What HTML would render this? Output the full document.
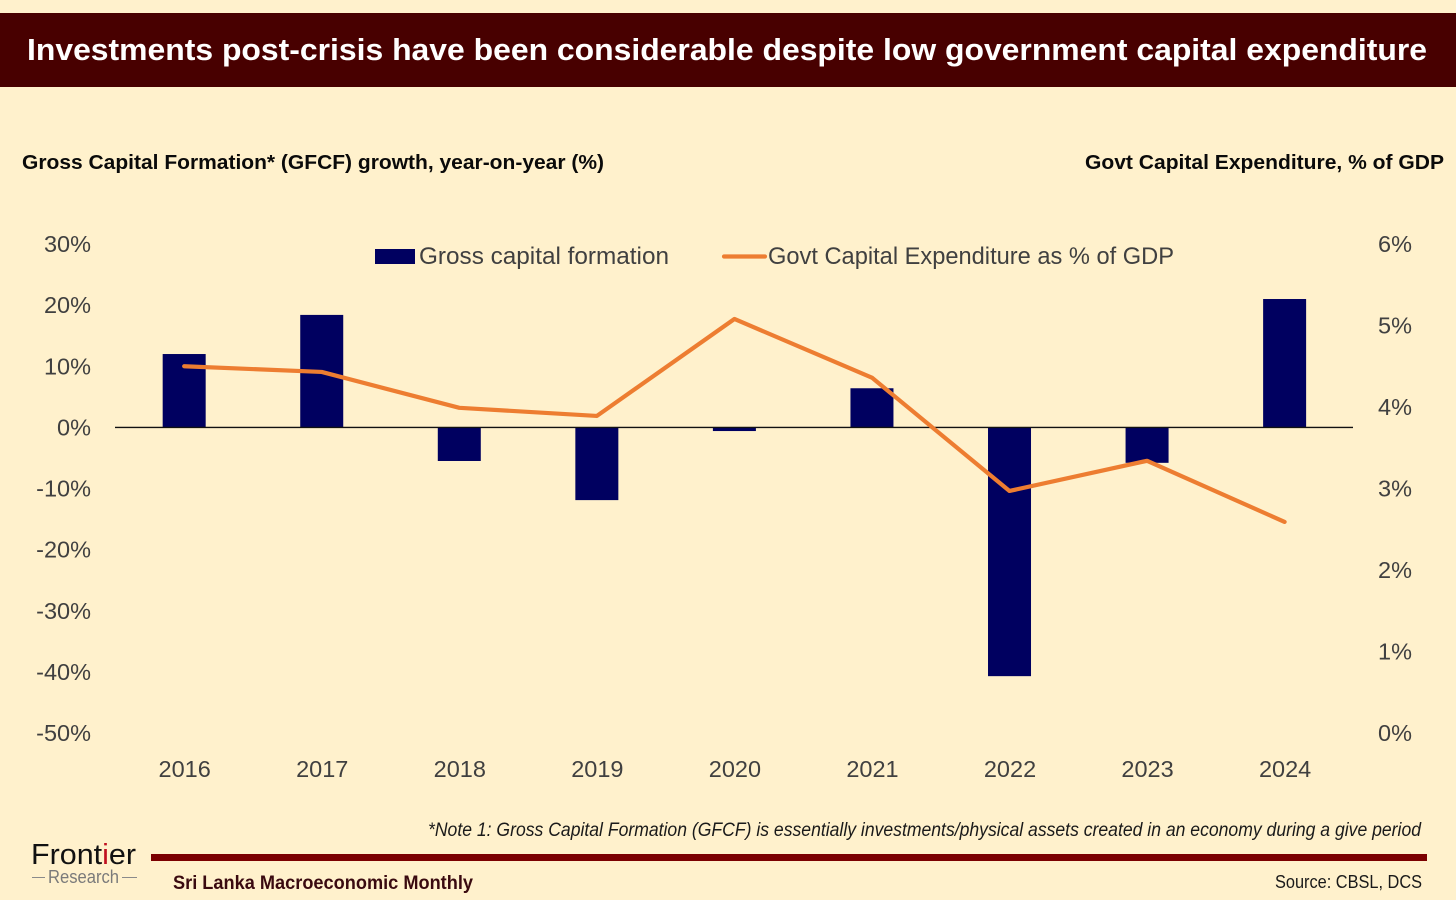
<!DOCTYPE html>
<html lang="en">
<head>
<meta charset="utf-8">
<title>Investments post-crisis</title>
<style>
html,body{margin:0;padding:0;background:#FFF1CC;}
body{width:1456px;height:900px;overflow:hidden;}
svg{display:block;font-family:"Liberation Sans",sans-serif;}
</style>
</head>
<body>
<svg id="chart" width="1456" height="900" viewBox="0 0 1456 900" xmlns="http://www.w3.org/2000/svg">
  <rect x="0" y="0" width="1456" height="900" fill="#FFF1CC"/>
  <rect x="0" y="13" width="1456" height="74" fill="#480000"/>
  <text x="27" y="60" font-size="31" font-weight="700" fill="#ffffff" textLength="1400" lengthAdjust="spacingAndGlyphs">Investments post-crisis have been considerable despite low government capital expenditure</text>
  <text x="22" y="169" font-size="20" font-weight="700" fill="#0a0a0a" textLength="582" lengthAdjust="spacingAndGlyphs">Gross Capital Formation* (GFCF) growth, year-on-year (%)</text>
  <text x="1085" y="169" font-size="20" font-weight="700" fill="#0a0a0a" textLength="359" lengthAdjust="spacingAndGlyphs">Govt Capital Expenditure, % of GDP</text>

  <g id="left-ticks"></g>
  <g id="right-ticks"></g>
  <g id="x-ticks"></g>
  <g id="bars"></g>
  <line x1="115" y1="427.4" x2="1353" y2="427.4" stroke="#111111" stroke-width="1.4"/>
  <polyline id="expenditure-line" fill="none" stroke="#ED7D31" stroke-width="4.2" stroke-linejoin="round" stroke-linecap="round"/>

  <g>
    <rect x="375" y="249" width="40" height="15" fill="#000060"/>
    <text x="419" y="264" font-size="24" fill="#404040" textLength="250" lengthAdjust="spacingAndGlyphs">Gross capital formation</text>
    <line x1="724" y1="256.5" x2="765" y2="256.5" stroke="#ED7D31" stroke-width="4.2" stroke-linecap="round"/>
    <text x="768" y="264" font-size="24" fill="#404040" textLength="406" lengthAdjust="spacingAndGlyphs">Govt Capital Expenditure as % of GDP</text>
  </g>

  <text x="428" y="836" font-size="19" font-style="italic" fill="#1a1a1a" textLength="993" lengthAdjust="spacingAndGlyphs">*Note 1: Gross Capital Formation (GFCF) is essentially investments/physical assets created in an economy during a give period</text>
  <rect x="151" y="854" width="1276" height="7" fill="#7B0000"/>
  <text x="173" y="889" font-size="19" font-weight="700" fill="#3A0A10" textLength="300" lengthAdjust="spacingAndGlyphs">Sri Lanka Macroeconomic Monthly</text>
  <text x="1275" y="888" font-size="18" fill="#1a1a1a" textLength="147" lengthAdjust="spacingAndGlyphs">Source: CBSL, DCS</text>

  <g>
    <text x="31" y="864" font-size="29" fill="#111111" textLength="105" lengthAdjust="spacingAndGlyphs">Front<tspan fill="#C01020">i</tspan>er</text>
    <text x="48" y="883" font-size="18" fill="#7a7a7a" textLength="71" lengthAdjust="spacingAndGlyphs">Research</text>
    <line x1="32" y1="877.5" x2="45" y2="877.5" stroke="#8a8a8a" stroke-width="1"/>
    <line x1="122" y1="877.5" x2="137" y2="877.5" stroke="#8a8a8a" stroke-width="1"/>
  </g>
</svg>
<script>
const categories = ["2016","2017","2018","2019","2020","2021","2022","2023","2024"];
const gcfGrowth = [12.0,18.4,-5.5,-11.9,-0.6,6.4,-40.7,-5.8,21.0];
const capexShare = [4.5,4.43,3.99,3.89,5.08,4.36,2.97,3.34,2.59];
const leftTicks = [30,20,10,0,-10,-20,-30,-40,-50];
const rightTicks = [6,5,4,3,2,1,0];

const NS = "http://www.w3.org/2000/svg";
const plotLeft = 115.4, plotRight = 1353.4, plotTop = 244, plotBottom = 733;
const leftMin = -50, leftMax = 30, rightMin = 0, rightMax = 6;
const barWidth = 43;

function xBand(i){ return plotLeft + (plotRight - plotLeft) * (i + 0.5) / categories.length; }
function yLeft(v){ return plotBottom - (v - leftMin) / (leftMax - leftMin) * (plotBottom - plotTop); }
function yRight(v){ return plotBottom - (v - rightMin) / (rightMax - rightMin) * (plotBottom - plotTop); }

function tickText(parent, x, y, anchor, str){
  const t = document.createElementNS(NS, "text");
  t.setAttribute("x", x);
  t.setAttribute("y", y);
  t.setAttribute("text-anchor", anchor);
  t.setAttribute("font-size", "23.5");
  t.setAttribute("fill", "#404040");
  t.textContent = str;
  parent.appendChild(t);
  return t;
}

const leftGroup = document.getElementById("left-ticks");
leftTicks.forEach(function(v){
  const el = tickText(leftGroup, 91, yLeft(v) + 8, "end", v + "%");
  
  
});

const rightGroup = document.getElementById("right-ticks");
rightTicks.forEach(function(v){
  const el = tickText(rightGroup, 1378, yRight(v) + 8, "start", v + "%");
  
  
});

const xGroup = document.getElementById("x-ticks");
categories.forEach(function(c, i){
  const el = tickText(xGroup, xBand(i) + 0.5, 777, "middle", c);
  
  
});

const barGroup = document.getElementById("bars");
gcfGrowth.forEach(function(v, i){
  const r = document.createElementNS(NS, "rect");
  const y0 = yLeft(0), y1 = yLeft(v);
  r.setAttribute("x", xBand(i) - barWidth / 2);
  r.setAttribute("y", Math.min(y0, y1));
  r.setAttribute("width", barWidth);
  r.setAttribute("height", Math.abs(y1 - y0));
  r.setAttribute("fill", "#000060");
  
  
  barGroup.appendChild(r);
});

document.getElementById("expenditure-line").setAttribute("points",
  capexShare.map(function(v, i){ return xBand(i) + "," + yRight(v); }).join(" "));
</script>
</body>
</html>
